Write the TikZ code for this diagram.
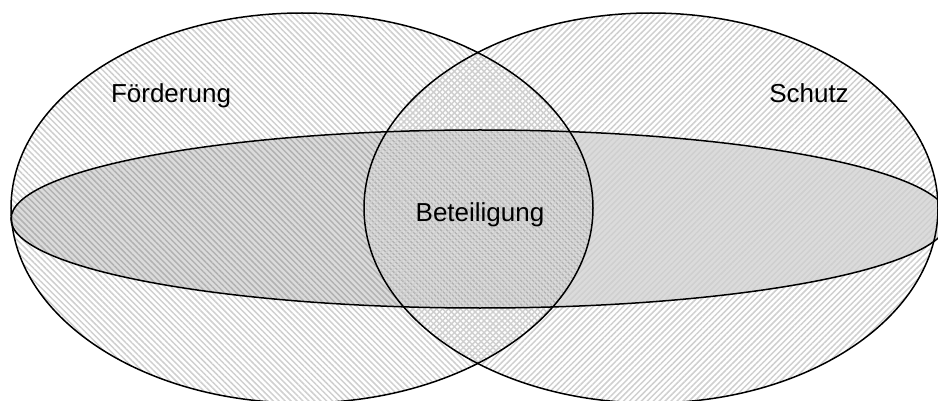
\documentclass[tikz,border=0pt]{standalone}
\usepackage{fontspec}
\setmainfont{Liberation Sans}
\usetikzlibrary{patterns.meta}
\begin{document}
\begin{tikzpicture}[x=1pt,y=-1pt,
  outline/.style={draw=black,line width=1.5pt},
  hatchL/.style={pattern={Lines[angle=-45,distance=4.2pt,line width=1.5pt]},pattern color=black!19},
  hatchR/.style={pattern={Lines[angle=45,distance=4.2pt,line width=1.5pt]},pattern color=black!19},
  flatfill/.style={fill=black,fill opacity=0.14},
  lbl/.style={font=\fontsize{26}{30}\selectfont,anchor=base,inner sep=0pt}]
\useasboundingbox (0,0) rectangle (938,401);
\clip (0,0) rectangle (938,401);
% fills
\path[hatchL] (302,208) ellipse [x radius=291, y radius=195];
\path[flatfill] (480,219) ellipse [x radius=469, y radius=89];
\path[hatchR] (651,208) ellipse [x radius=287, y radius=195];
% outlines
\draw[outline] (302,208) ellipse [x radius=291, y radius=195];
\draw[outline] (480,219) ellipse [x radius=469, y radius=89];
\draw[outline] (651,208) ellipse [x radius=287, y radius=195];
% labels
\node[lbl] (foerd) at (171,103) {Förderung};
\node[lbl] (schutz) at (809,103) {Schutz};
\node[lbl] (beteil) at (480,222) {Beteiligung};
\end{tikzpicture}
\end{document}
